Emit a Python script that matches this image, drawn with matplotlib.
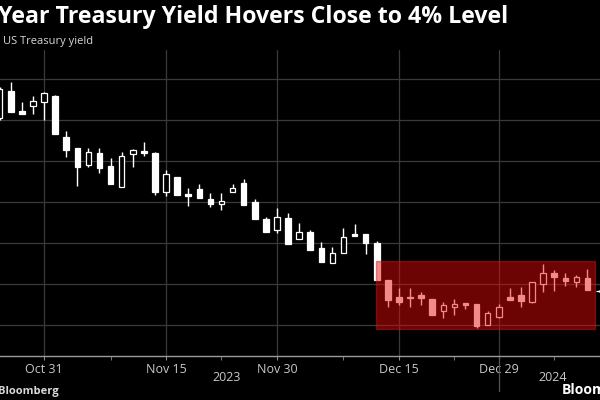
import matplotlib
matplotlib.use("Agg")
import matplotlib.pyplot as plt
import matplotlib.transforms as mtransforms
import numpy as np

# daily candles, index 0 = Oct 31 2023
days = np.arange(-4, 51)
opens = [4.810, 4.943, 4.845, 4.870, 4.888, 4.919, 4.717, 4.663, 4.580, 4.639,
         4.576, 4.475, 4.634, 4.649, 4.639, 4.450, 4.522, 4.439, 4.463, 4.415,
         4.390, 4.447, 4.491, 4.401, 4.317, 4.263, 4.322, 4.218, 4.255, 4.174,
         4.104, 4.150, 4.244, 4.244, 4.201, 4.020, 3.935, 3.938, 3.946, 3.927,
         3.868, 3.886, 3.906, 3.901, 3.800, 3.840, 3.938, 3.946, 3.914, 3.999,
         4.052, 4.028, 4.011, 4.031, 3.966]
closes = [4.951, 4.840, 4.831, 4.893, 4.932, 4.732, 4.654, 4.571, 4.644, 4.566,
          4.488, 4.626, 4.654, 4.638, 4.449, 4.537, 4.434, 4.429, 4.420, 4.390,
          4.406, 4.470, 4.385, 4.317, 4.255, 4.325, 4.195, 4.255, 4.166, 4.106,
          4.153, 4.228, 4.234, 4.201, 4.020, 3.922, 3.914, 3.930, 3.930, 3.849,
          3.898, 3.902, 3.898, 3.797, 3.857, 3.889, 3.922, 3.917, 4.008, 4.052,
          4.033, 4.015, 4.036, 3.971, 3.964]
highs = [4.961, 4.985, 4.888, 4.917, 4.937, 4.922, 4.746, 4.663, 4.663, 4.663,
         4.615, 4.645, 4.659, 4.694, 4.645, 4.556, 4.522, 4.468, 4.488, 4.444,
         4.445, 4.488, 4.512, 4.415, 4.328, 4.371, 4.346, 4.299, 4.263, 4.206,
         4.182, 4.272, 4.293, 4.244, 4.211, 4.020, 3.979, 3.980, 3.961, 3.927,
         3.914, 3.925, 3.906, 3.901, 3.868, 3.901, 3.979, 3.985, 4.008, 4.096,
         4.068, 4.052, 4.044, 4.073, 3.970]
lows = [4.800, 4.839, 4.829, 4.829, 4.800, 4.732, 4.620, 4.478, 4.571, 4.541,
        4.488, 4.473, 4.571, 4.626, 4.434, 4.429, 4.434, 4.380, 4.420, 4.377,
        4.361, 4.447, 4.385, 4.317, 4.255, 4.249, 4.195, 4.218, 4.166, 4.106,
        4.104, 4.150, 4.234, 4.146, 4.020, 3.889, 3.898, 3.889, 3.898, 3.849,
        3.833, 3.849, 3.878, 3.787, 3.800, 3.833, 3.922, 3.889, 3.906, 3.962,
        3.966, 3.990, 3.987, 3.971, 3.960]

tick_pos = [0, 11, 21, 32, 41]
tick_labels = ["Oct 31", "Nov 15", "Nov 30", "Dec 15", "Dec 29"]
minor_pos = [6, 16, 27, 37, 46]
grid_levels = [3.8, 4.0, 4.2, 4.4, 4.6, 4.8, 5.0]
years = ["2023", "2024"]
year_pos = [16.5, 45.9]
range_box = (29.9, 49.7, 3.779, 4.112)   # x0, x1, y0, y1

plt.rcParams["font.family"] = ["Open Sans", "DejaVu Sans"]
fig = plt.figure(figsize=(6, 4), dpi=100, facecolor="black")
ax = fig.add_axes([0, 0.11, 1, 0.765], facecolor="black")
ax.set_xlim(-3.97, 50.13)
ax.set_ylim(3.649, 5.1415)

for s in ["top", "right", "left"]:
    ax.spines[s].set_visible(False)
ax.spines["bottom"].set_color("#9a9a9a")
ax.spines["bottom"].set_linewidth(1)

ax.set_yticks(grid_levels)
ax.tick_params(axis="y", length=0, labelleft=False)
ax.yaxis.grid(True, color="#3a3a3a", lw=0.9)
ax.set_xticks(tick_pos)
ax.set_xticklabels(tick_labels)
ax.set_xticks(minor_pos, minor=True)
ax.tick_params(axis="x", which="both", length=3, color="#8a8a8a",
               labelcolor="#c8c8c8", labelsize=9, pad=2)
ax.xaxis.grid(True, color="#3a3a3a", lw=0.9)
ax.set_axisbelow(True)

# year separator below the axis
ax.axvline(41, ymin=-0.115, ymax=0, color="#555555", lw=0.9, clip_on=False)
trans = mtransforms.blended_transform_factory(ax.transData, ax.transAxes)
for yr, xp in zip(years, year_pos):
    ax.text(xp, -0.05, yr, transform=trans, ha="center", va="top",
            color="#c8c8c8", fontsize=9)

# candles
w = 0.5
for d, o, c, h, l in zip(days, opens, closes, highs, lows):
    up = c >= o
    ax.vlines(d, l, h, color="white", lw=1, zorder=3)
    body = max(abs(c - o), 0.004)
    ax.bar(d, body, w, bottom=min(o, c), zorder=4,
           facecolor="black" if up else "white", edgecolor="white", lw=0.9)

x0, x1, y0, y1 = range_box
ax.fill_between([x0, x1], y0, y1, color=(0.9, 0.04, 0.04), alpha=0.48,
                lw=1, edgecolor=(0.75, 0.1, 0.1), zorder=6)

fig.text(-0.003, 0.988, "Year Treasury Yield Hovers Close to 4% Level",
         color="white", fontsize=16.7, fontweight="bold", va="top", ha="left")
fig.text(0.005, 0.897, "US Treasury yield", color="#d8d8d8", fontsize=8,
         va="center", ha="left")
fig.text(-0.003, 0.022, "Bloomberg", color="#d8d8d8", fontsize=8,
         fontweight="bold", va="center", ha="left")
fig.text(0.937, 0.025, "Bloomberg", color="white", fontsize=10,
         fontweight="bold", va="center", ha="left")

fig.savefig("out.png", dpi=100, facecolor="black")
